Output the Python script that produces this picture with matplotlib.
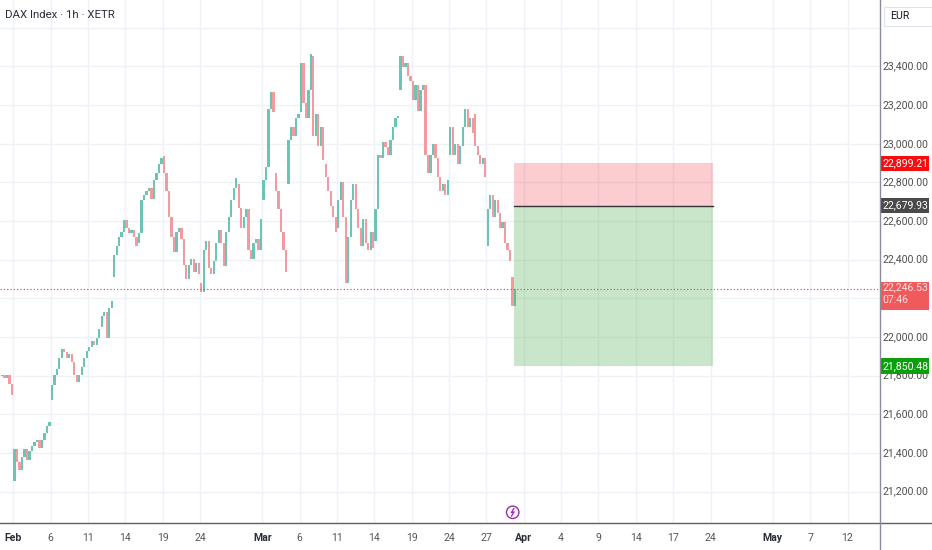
import matplotlib
matplotlib.use("Agg")
import matplotlib.pyplot as plt
import matplotlib.transforms as mtransforms
from matplotlib.patches import Rectangle, Circle
from matplotlib.lines import Line2D

plt.rcParams['font.family'] = ['Liberation Sans Narrow', 'Roboto', 'DejaVu Sans']

title = "DAX Index \u00b7 1h \u00b7 XETR"
currency = "EUR"

# one list per trading session (Jan 31 .. Mar 31): open, then closes of its candles
sessions = [
    [21797, 21806, 21787, 21806, 21759, 21702],   # Jan 31
    [21257, 21418, 21351, 21313, 21380, 21418],   # Feb 3
    [21418, 21361, 21408, 21437, 21456, 21465],
    [21465, 21427, 21465, 21503, 21541, 21560],
    [21674, 21750, 21806, 21835, 21892, 21939],   # Feb 6
    [21939, 21920, 21892, 21911, 21873, 21806],
    [21806, 21768, 21806, 21844, 21892, 21930],   # Feb 10
    [21930, 21949, 21977, 21958, 21996, 22043],
    [22053, 22110, 22129, 21996, 22148, 22186],
    [22309, 22423, 22470, 22517, 22546, 22603],   # Feb 13
    [22603, 22565, 22536, 22555, 22517, 22470],
    [22489, 22536, 22707, 22735, 22754, 22773],   # Feb 17
    [22773, 22716, 22811, 22849, 22897, 22925],
    [22935, 22849, 22754, 22622, 22517, 22442],   # Feb 19
    [22442, 22546, 22565, 22508, 22375, 22299],
    [22299, 22375, 22404, 22337, 22385, 22328],
    [22280, 22233, 22451, 22498, 22356, 22328],   # Feb 24
    [22328, 22394, 22489, 22555, 22489, 22366],
    [22366, 22546, 22622, 22707, 22773, 22821],
    [22792, 22669, 22565, 22622, 22660, 22451],
    [22451, 22404, 22489, 22508, 22451, 22612],
    [22707, 22811, 22878, 23181, 23266, 23162],   # Mar 3
    [22849, 22754, 22660, 22546, 22451, 22337],
    [22792, 23020, 23086, 23039, 23134, 23153],
    [23162, 23418, 23209, 23134, 23276, 23465],   # Mar 6
    [23456, 23039, 23153, 22991, 23086, 22916],
    [22897, 22830, 22754, 22679, 22622, 22546],   # Mar 10
    [22565, 22707, 22802, 22622, 22280, 22517],
    [22517, 22707, 22792, 22660, 22565, 22470],
    [22470, 22612, 22489, 22451, 22546, 22461],
    [22498, 22660, 22944, 22925, 23010, 22982],   # Mar 14
    [22982, 22944, 23020, 23086, 23134, 23143],
    [23276, 23456, 23399, 23418, 23352, 23323],   # Mar 18
    [23323, 23228, 23304, 23172, 23276, 23304],
    [23304, 22944, 22849, 22944, 23001, 22925],
    [22925, 22830, 22754, 22792, 22735, 22811],
    [22944, 23086, 22944, 23001, 22897, 22991],   # Mar 24
    [22991, 23086, 23181, 23086, 23134, 23058],
    [23153, 22991, 22944, 22897, 22925, 22830],
    [22470, 22660, 22735, 22622, 22707, 22641],   # Mar 27
    [22641, 22565, 22593, 22489, 22451, 22394],
    [22310, 22160, 22246.53],                     # Mar 31 (live)
]

# x axis runs in trading days, Feb 3 = 0
tick_days = [0, 3, 6, 9, 12, 15, 20, 23, 26, 29, 32, 35, 38, 41, 44, 47, 50, 53, 56, 61, 64, 67]
tick_labels = ["Feb", "6", "11", "14", "19", "24", "Mar", "6", "11", "14", "19", "24", "27",
               "Apr", "4", "9", "14", "17", "24", "May", "7", "12"]
months = {"Feb", "Mar", "Apr", "May"}

price_ticks = [21200, 21400, 21600, 21800, 22000, 22200, 22400, 22600, 22800, 23000, 23200, 23400]
grid_prices = price_ticks + [23600]
hidden_ticks = {22200}  # covered by the live price tag

last_price = 22246.53
countdown = "07:46"
entry = 22679.93
stop = 22899.21
target = 21850.48
position_days = (40.24, 56.2)

W, H = 932, 550
fig = plt.figure(figsize=(W / 100, H / 100), dpi=100)
fig.patch.set_facecolor("white")
ax = fig.add_axes([0, 1 - 523.3 / H, 879.5 / W, 523.3 / H])
ax.set_xlim(-1.068, 69.57)
ax.set_ylim(21036, 23744)
for s in ax.spines.values():
    s.set_visible(False)
ax.tick_params(length=0, labelbottom=False, labelleft=False)
ax.set_xticks(tick_days)
ax.set_yticks(grid_prices)
ax.grid(True, color="#eef1f6", lw=1)
ax.set_axisbelow(True)

# candles
up, down = "#6cc4b2", "#f29a9d"
n_per = 5
for i, sess in enumerate(sessions):
    day = i - 1
    o = sess[0]
    for k, c in enumerate(sess[1:]):
        x = day + (k + 0.5) / n_per
        h = c - o
        if abs(h) < 8:
            h = 8 if h >= 0 else -8
        ax.bar(x, h, bottom=o, width=0.18, color=up if c >= o else down,
               linewidth=0, zorder=3)
        o = c

# position tool
x0, x1 = position_days
ax.add_patch(Rectangle((x0, entry), x1 - x0, stop - entry, facecolor="#f23645",
                       alpha=0.25, lw=0, zorder=4))
ax.add_patch(Rectangle((x0, target), x1 - x0, entry - target, facecolor="#4caf50",
                       alpha=0.3, lw=0, zorder=4))
ax.plot([x0, x1], [entry, entry], color="#333333", lw=1, zorder=5)

# last price line
ax.axhline(last_price, color="#f23645", lw=0.8, ls=(0, (1, 2)), zorder=5)

# right price scale
tr = mtransforms.blended_transform_factory(fig.transFigure, ax.transData)
for p in price_ticks:
    if p in hidden_ticks:
        continue
    ax.text(905.5 / W, p, f"{p:,.2f}", transform=tr, ha="center", va="center",
            fontsize=7.6, color="#4f4f4f", clip_on=False)

def price_tag(p, text, color, h=80):
    ax.add_patch(Rectangle((880.5 / W, p - h / 2), 48.5 / W, h, transform=tr,
                           facecolor=color, lw=0, clip_on=False, zorder=6))
    ax.text(905.5 / W, p, text, transform=tr, ha="center", va="center",
            fontsize=7.6, color="white", clip_on=False, zorder=7)

price_tag(stop, f"{stop:,.2f}", "#f70d0d")
price_tag(entry, f"{entry:,.2f}", "#4a4a4a")
price_tag(target, f"{target:,.2f}", "#0c9f0c")
ax.add_patch(Rectangle((880.5 / W, 22140), 48.5 / W, 22285 - 22140, transform=tr,
                       facecolor="#f05a5c", lw=0, clip_on=False, zorder=6))
ax.text(905.5 / W, 22283, f"{last_price:,.2f}\n{countdown}", transform=tr, ha="center",
        va="top", multialignment="left", fontsize=7.6, linespacing=1.35,
        color="#ffe3e3", clip_on=False, zorder=7)

# time scale labels
tb = mtransforms.blended_transform_factory(ax.transData, fig.transFigure)
for d, lab in zip(tick_days, tick_labels):
    bold = lab in months
    ax.text(d, 1 - 538 / H, lab, transform=tb, ha="center", va="center",
            fontsize=7.6, color="#2a2e39" if bold else "#555555",
            fontweight="bold" if bold else "normal", clip_on=False)

# frame lines
fig.add_artist(Line2D([0, 1], [1 - 523.3 / H] * 2, color="#5d606b", lw=1))
fig.add_artist(Line2D([879.5 / W] * 2, [0, 1], color="#8a8d96", lw=1))

# title and currency
fig.text(5 / W, 1 - 15 / H, title, ha="left", va="center", fontsize=8.2, color="#2a2e39")
fig.add_artist(Rectangle((884 / W, 1 - 26 / H), 48 / W, 19 / H, transform=fig.transFigure,
                         facecolor="white", edgecolor="#e0e3eb", lw=0.8))
fig.text(890 / W, 1 - 16 / H, currency, ha="left", va="center", fontsize=7.6, color="#131722")

# event marker: circled lightning bolt under the last session
cx, cy = 512.7 / 100, (H - 512.3) / 100
fig.add_artist(Circle((cx, cy), 0.062, transform=fig.dpi_scale_trans, facecolor="white",
                      edgecolor="#9c27b0", lw=1))
fig.add_artist(Line2D([cx + 0.012, cx - 0.014, cx + 0.014, cx - 0.012],
                      [cy + 0.038, cy - 0.004, cy + 0.004, cy - 0.038],
                      transform=fig.dpi_scale_trans, color="#9c27b0", lw=0.9))

fig.savefig("out.png", dpi=100)
